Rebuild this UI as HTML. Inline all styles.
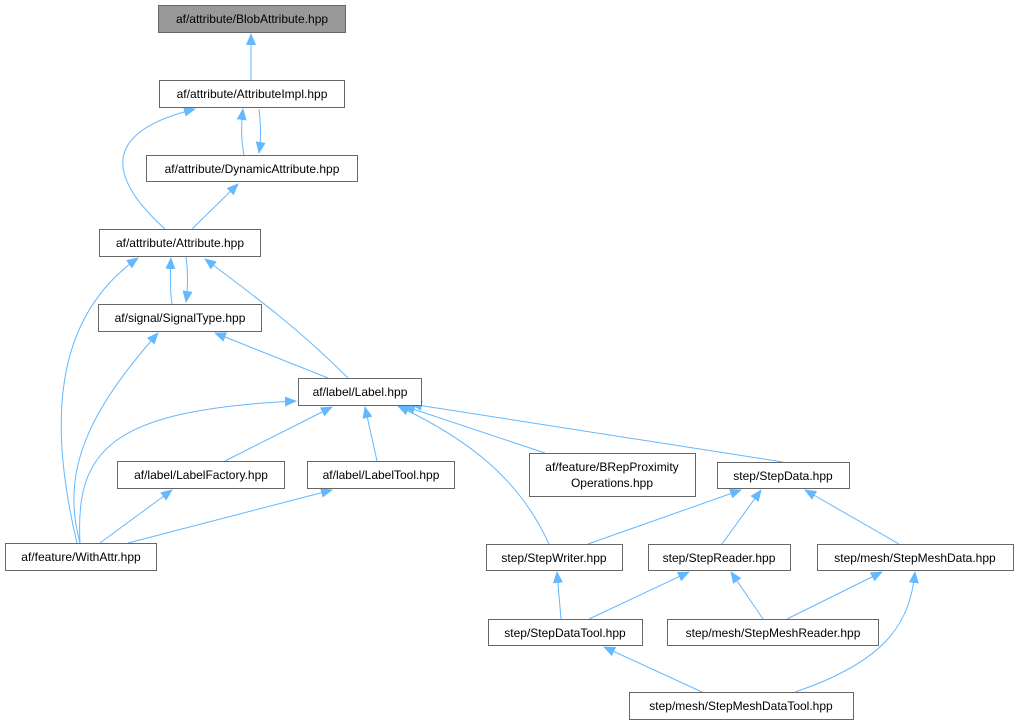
<!DOCTYPE html>
<html><head><meta charset="utf-8"><style>
body{margin:0;background:#fff;}
svg{display:block;font-family:"Liberation Sans",Arial,sans-serif;font-size:12px;}
.b{fill:#fff;stroke:#666;stroke-width:1}
.e{fill:none;stroke:#63b8ff;stroke-width:1}
text{fill:#000;text-anchor:middle}
</style></head><body>
<svg width="1018" height="725" viewBox="0 0 1018 725">
<defs><marker id="m" viewBox="0 0 12 10" refX="11" refY="5" markerWidth="12" markerHeight="10" markerUnits="userSpaceOnUse" orient="auto"><path d="M0,0 L12,5 L0,10z" fill="#63b8ff"/></marker></defs>
<g class="e" marker-end="url(#m)">
<path d="M251,80 L251,34"/>
<path d="M165,229 C100,170 110,130 195,109"/>
<path d="M244,155 C241,140 241,125 243,109"/>
<path d="M259,109 C261,125 261,140 259,153"/>
<path d="M192,229 L238,184"/>
<path d="M172,304 C170,290 170,275 171,258"/>
<path d="M186,256 C188,272 188,288 186,302"/>
<path d="M77,543 C50,430 50,320 138,258"/>
<path d="M348,378 C300,330 260,300 205,259"/>
<path d="M80,543 C60,470 90,410 158,333"/>
<path d="M328,378 L215,333"/>
<path d="M80,543 C75,450 110,410 296,401"/>
<path d="M225,461 L332,407"/>
<path d="M377,461 L365,407"/>
<path d="M100,543 L172,490"/>
<path d="M128,543 L332,490"/>
<path d="M549,544 C520,480 470,440 398,406"/>
<path d="M545,453 L404,406"/>
<path d="M783,462 L411,404"/>
<path d="M588,544 L741,490"/>
<path d="M722,544 L761,490"/>
<path d="M899,544 L805,490"/>
<path d="M561,619 L557,572"/>
<path d="M589,619 L689,572"/>
<path d="M763,619 L731,572"/>
<path d="M787,619 L882,572"/>
<path d="M702,692 L604,647"/>
<path d="M795,692 C890,660 910,620 915,572"/>
</g>
<rect x="158.5" y="5.5" width="187" height="27" fill="#999" stroke="#666"/>
<text x="252" y="23">af/attribute/BlobAttribute.hpp</text>
<rect class="b" x="159.5" y="80.5" width="185" height="27"/><text x="252" y="98">af/attribute/AttributeImpl.hpp</text>
<rect class="b" x="146.5" y="155.5" width="211" height="26"/><text x="252" y="173">af/attribute/DynamicAttribute.hpp</text>
<rect class="b" x="99.5" y="229.5" width="161" height="27"/><text x="180" y="247">af/attribute/Attribute.hpp</text>
<rect class="b" x="98.5" y="304.5" width="163" height="27"/><text x="180" y="322">af/signal/SignalType.hpp</text>
<rect class="b" x="298.5" y="378.5" width="123" height="27"/><text x="360" y="396">af/label/Label.hpp</text>
<rect class="b" x="117.5" y="461.5" width="167" height="27"/><text x="201" y="479">af/label/LabelFactory.hpp</text>
<rect class="b" x="307.5" y="461.5" width="147" height="27"/><text x="381" y="479">af/label/LabelTool.hpp</text>
<rect class="b" x="5.5" y="543.5" width="151" height="27"/><text x="81" y="561">af/feature/WithAttr.hpp</text>
<rect class="b" x="529.5" y="453.5" width="166" height="43"/><text x="612" y="471">af/feature/BRepProximity</text><text x="612" y="487">Operations.hpp</text>
<rect class="b" x="717.5" y="462.5" width="132" height="26"/><text x="783" y="480">step/StepData.hpp</text>
<rect class="b" x="486.5" y="544.5" width="136" height="26"/><text x="554" y="562">step/StepWriter.hpp</text>
<rect class="b" x="648.5" y="544.5" width="142" height="26"/><text x="719" y="562">step/StepReader.hpp</text>
<rect class="b" x="817.5" y="544.5" width="196" height="26"/><text x="915" y="562">step/mesh/StepMeshData.hpp</text>
<rect class="b" x="488.5" y="619.5" width="154" height="26"/><text x="565" y="637">step/StepDataTool.hpp</text>
<rect class="b" x="667.5" y="619.5" width="211" height="26"/><text x="773" y="637">step/mesh/StepMeshReader.hpp</text>
<rect class="b" x="629.5" y="692.5" width="224" height="27"/><text x="741" y="710">step/mesh/StepMeshDataTool.hpp</text>
</svg>
</body></html>
